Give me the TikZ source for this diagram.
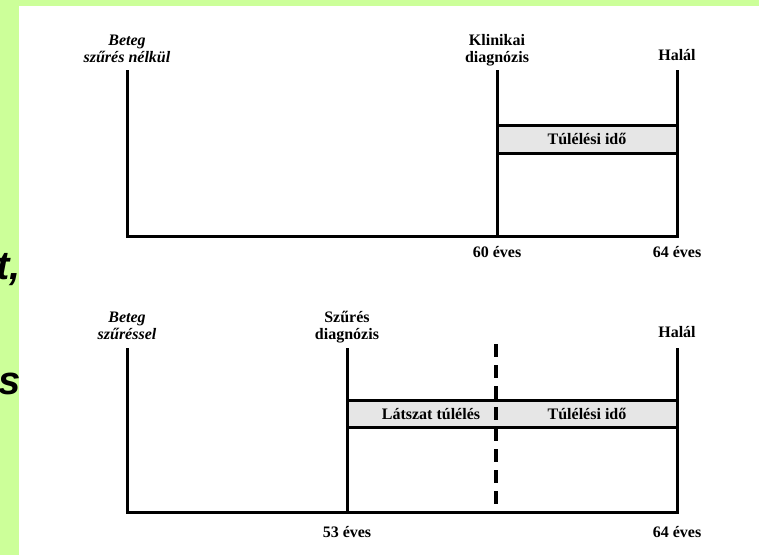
\documentclass[tikz,border=0pt]{standalone}
\usepackage{fontspec}
\setmainfont{Liberation Serif}
\setsansfont{Liberation Sans}
\definecolor{slidegreen}{RGB}{204,255,153}
\definecolor{boxgray}{RGB}{230,230,230}

\begin{document}
\begin{tikzpicture}[x=1pt,y=-1pt]
\tikzstyle{axis}=[line width=3pt]
\tikzstyle{period}=[draw=black,line width=3pt,fill=boxgray]
\tikzstyle{lbl}=[inner sep=0pt,anchor=base,align=center,font=\fontsize{16}{17}\selectfont\bfseries]
\tikzstyle{lbl_it}=[lbl,font=\fontsize{16}{17}\selectfont\bfseries\itshape]
\tikzstyle{lead}=[line width=4pt,dash pattern=on 13pt off 8pt]
\tikzstyle{frag}=[inner sep=0pt,anchor=base east,font=\fontsize{40}{40}\selectfont\sffamily\bfseries\itshape]
% slide background
\fill[slidegreen] (0,0) rectangle (759,555);
\fill[white] (19,6) rectangle (759,555);
\begin{scope}
\clip (0,6) rectangle (19,555);
\node [frag] (fragA) at (21,279) {t,};
\node [frag] (fragB) at (21,394) {s};
\end{scope}
% without screening
\coordinate (T0) at (127,70);
\coordinate (T0b) at (127,236);
\coordinate (T1) at (497,70);
\coordinate (T1b) at (497,236);
\coordinate (T2) at (677,70);
\coordinate (T2b) at (677,236);
\coordinate (TB1) at (497,125);
\coordinate (TB2) at (677,153);
\draw [period] (TB1) rectangle (TB2);
\draw [axis] (T0) -- (T0b) -- (T2b) -- (T2);
\draw [axis] (T1) -- (T1b);
\node [lbl_it] (patA) at (127,62) {Beteg\\szűrés nélkül};
\node [lbl] (clinDx) at (497,62) {Klinikai\\diagnózis};
\node [lbl] (deathA) at (677,60) {Halál};
\node [lbl] (survA) at (587,144) {Túlélési idő};
\node [lbl] (ageA1) at (497,257) {60 éves};
\node [lbl] (ageA2) at (677,257) {64 éves};
% with screening
\coordinate (B0) at (127,348);
\coordinate (B0b) at (127,512);
\coordinate (B1) at (347,348);
\coordinate (B1b) at (347,512);
\coordinate (B2) at (677,348);
\coordinate (B2b) at (677,512);
\coordinate (BB1) at (347,400);
\coordinate (BB2) at (677,427);
\coordinate (Bd) at (496,344);
\coordinate (Bdb) at (496,505);
\draw [period] (BB1) rectangle (BB2);
\draw [axis] (B0) -- (B0b) -- (B2b) -- (B2);
\draw [axis] (B1) -- (B1b);
\draw [lead] (Bd) -- (Bdb);
\node [lbl_it] (patB) at (127,339) {Beteg\\szűréssel};
\node [lbl] (scrDx) at (347,339) {Szűrés\\diagnózis};
\node [lbl] (deathB) at (677,337) {Halál};
\node [lbl] (leadT) at (431,419) {Látszat túlélés};
\node [lbl] (survB) at (587,419) {Túlélési idő};
\node [lbl] (ageB1) at (347,537) {53 éves};
\node [lbl] (ageB2) at (677,537) {64 éves};
\end{tikzpicture}
\end{document}
